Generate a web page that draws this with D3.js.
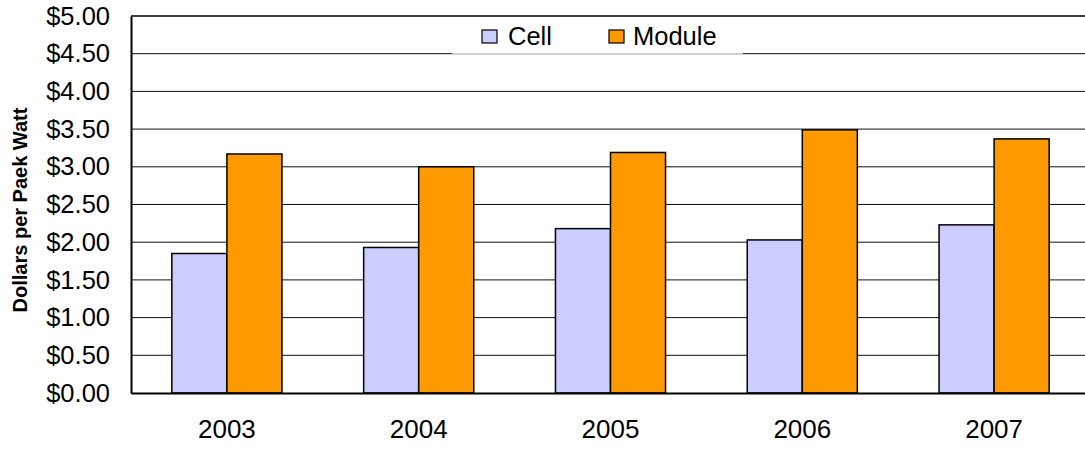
<!DOCTYPE html>
<html>
<head>
<meta charset="utf-8">
<script src="https://cdn.jsdelivr.net/npm/d3@7"></script>
<style>
  html, body { margin: 0; padding: 0; background: #fff; }
  svg { display: block; font-family: "Liberation Sans", Arial, sans-serif; }
</style>
</head>
<body>
<svg id="chart" width="1085" height="451"></svg>
<script>
const years = ["2003", "2004", "2005", "2006", "2007"];
const seriesNames = ["Cell", "Module"];
const cellValues = [1.85, 1.93, 2.18, 2.03, 2.23];
const moduleValues = [3.17, 3.00, 3.19, 3.49, 3.37];
const yTicks = [0, 0.5, 1, 1.5, 2, 2.5, 3, 3.5, 4, 4.5, 5];
const yTitle = "Dollars per Paek Watt";
const colors = ["#CCCCFF", "#FF9900"];

const svg = d3.select("#chart");
const margin = { left: 131, top: 16, bottom: 58 };
const plotW = 959;
const height = 451;
const innerH = height - margin.top - margin.bottom;

const x = d3.scaleBand().domain(years).range([margin.left, margin.left + plotW]).paddingInner(0.426).paddingOuter(0.213);
const x1 = d3.scaleBand().domain(seriesNames).range([0, x.bandwidth()]);
const y = d3.scaleLinear().domain([0, 5]).range([margin.top + innerH, margin.top]);

// gridlines
svg.append("g").selectAll("line").data(yTicks.filter(t => t > 0 && t < 5)).join("line")
  .attr("x1", margin.left).attr("x2", margin.left + plotW)
  .attr("y1", d => y(d)).attr("y2", d => y(d))
  .attr("stroke", "#111").attr("stroke-width", 1);

// top border
svg.append("line").attr("x1", margin.left).attr("x2", margin.left + plotW)
  .attr("y1", y(5)).attr("y2", y(5)).attr("stroke", "#000").attr("stroke-width", 1.5);

// legend background
const legX = 452, legW = 291;
svg.append("rect").attr("x", legX).attr("y", y(5) + 1).attr("width", legW).attr("height", y(4.5) - y(5) - 1)
  .attr("fill", "#fff");
svg.append("line").attr("x1", legX).attr("x2", legX + legW).attr("y1", 53.5).attr("y2", 53.5)
  .attr("stroke", "#d0d0d0").attr("stroke-width", 1);

const data = years.map((yr, i) => ({ year: yr, values: [cellValues[i], moduleValues[i]] }));

// bars
svg.append("g").selectAll("g").data(data).join("g")
  .attr("transform", d => `translate(${x(d.year)},0)`)
  .selectAll("rect").data(d => d.values.map((v, j) => ({ name: seriesNames[j], v, j }))).join("rect")
  .attr("x", d => x1(d.name)).attr("width", x1.bandwidth())
  .attr("y", d => y(d.v)).attr("height", d => y(0) - y(d.v))
  .attr("fill", d => colors[d.j]).attr("stroke", "#000").attr("stroke-width", 1.5);

// axes
const yAxis = svg.append("g").attr("transform", `translate(${margin.left},0)`)
  .call(d3.axisLeft(y).tickValues(yTicks).tickSize(0).tickPadding(21).tickFormat(d => "$" + d3.format(".2f")(d)));
yAxis.select(".domain").attr("stroke", "#000").attr("stroke-width", 2);
yAxis.selectAll("text").attr("font-size", 25.5).attr("fill", "#000").attr("font-family", "Liberation Sans, Arial, sans-serif");

const xAxis = svg.append("g").attr("transform", `translate(0,${y(0)})`)
  .call(d3.axisBottom(x).tickSize(0).tickPadding(27));
xAxis.select(".domain").attr("stroke", "#000").attr("stroke-width", 2);
xAxis.selectAll("text").attr("font-size", 26).attr("fill", "#000").attr("font-family", "Liberation Sans, Arial, sans-serif");

// y title
svg.append("text").attr("transform", "translate(27,210) rotate(-90)")
  .attr("text-anchor", "middle").attr("font-weight", "bold").attr("font-size", 20)
  .text(yTitle);

// legend
const legItems = [{ name: seriesNames[0], sx: 482, tx: 508 }, { name: seriesNames[1], sx: 609, tx: 633 }];
legItems.forEach((it, i) => {
  svg.append("rect").attr("x", it.sx).attr("y", 30).attr("width", 15).attr("height", 13)
    .attr("fill", colors[i]).attr("stroke", "#000").attr("stroke-width", 1.2);
  svg.append("text").attr("x", it.tx).attr("y", 45).attr("font-size", 25.5).attr("fill", "#000").text(it.name);
});
</script>
</body>
</html>
